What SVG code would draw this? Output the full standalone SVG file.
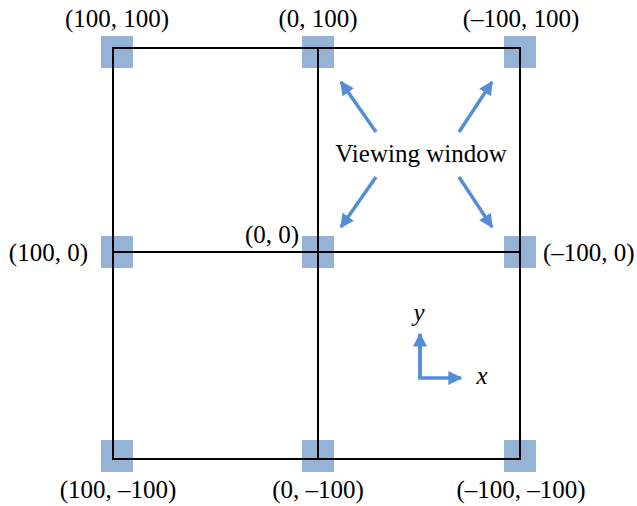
<svg xmlns="http://www.w3.org/2000/svg" width="637" height="506" viewBox="0 0 637 506">
<style>
.sq{fill:#95B3D7}
.ln{stroke:#000;stroke-width:2;fill:none}
.ar{stroke:#558ED5;stroke-width:3.5;fill:none}
text{font-family:"Liberation Serif","Times New Roman",serif;font-size:25px;fill:#000}
</style>
<defs>
<marker id="ah" viewBox="0 0 10 10" refX="9" refY="5" markerWidth="4" markerHeight="4" orient="auto" markerUnits="strokeWidth">
<path d="M0,0L10,5L0,10z" fill="#558ED5"/>
</marker>
</defs>
<g id="squares">
<rect class="sq" x="101" y="36" width="32" height="32"/>
<rect class="sq" x="302" y="36" width="32" height="32"/>
<rect class="sq" x="504" y="36" width="32" height="32"/>
<rect class="sq" x="101" y="236" width="32" height="32"/>
<rect class="sq" x="302" y="236" width="32" height="32"/>
<rect class="sq" x="504" y="236" width="32" height="32"/>
<rect class="sq" x="101" y="440" width="32" height="32"/>
<rect class="sq" x="302" y="440" width="32" height="32"/>
<rect class="sq" x="504" y="440" width="32" height="32"/>
</g>
<g id="grid">
<rect class="ln" x="113" y="48" width="407" height="411"/>
<line class="ln" x1="318" y1="48" x2="318" y2="459"/>
<line class="ln" x1="113" y1="252" x2="520" y2="252"/>
</g>
<g id="connectors">
<line class="ar" x1="376" y1="132" x2="341" y2="82" marker-end="url(#ah)"/>
<line class="ar" x1="459" y1="132" x2="492" y2="82" marker-end="url(#ah)"/>
<line class="ar" x1="376" y1="177" x2="341" y2="227" marker-end="url(#ah)"/>
<line class="ar" x1="459" y1="177" x2="492" y2="227" marker-end="url(#ah)"/>
<polyline class="ar" points="420,334 420,378 461,378" stroke-linejoin="miter" marker-end="url(#ah)"/>
<line class="ar" x1="420" y1="378" x2="420" y2="334" marker-end="url(#ah)"/>
</g>
<g id="labels">
<text x="117" y="27" text-anchor="middle">(100, 100)</text>
<text x="318" y="27" text-anchor="middle">(0, 100)</text>
<text x="521" y="27" text-anchor="middle">(–100, 100)</text>
<text x="88" y="261" text-anchor="end">(100, 0)</text>
<text x="272" y="243" text-anchor="middle">(0, 0)</text>
<text x="543" y="261">(–100, 0)</text>
<text x="118" y="498" text-anchor="middle">(100, –100)</text>
<text x="318" y="498" text-anchor="middle">(0, –100)</text>
<text x="521" y="498" text-anchor="middle">(–100, –100)</text>
<text x="421" y="162" text-anchor="middle" font-size="26.5">Viewing window</text>
<text x="419" y="321" text-anchor="middle" font-style="italic">y</text>
<text x="482" y="384" text-anchor="middle" font-style="italic">x</text>
</g>
</svg>
